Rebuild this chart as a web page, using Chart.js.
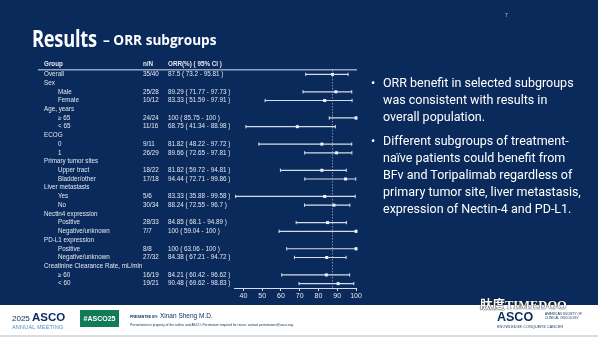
<!DOCTYPE html>
<html lang="en">
<head>
<meta charset="UTF-8">
<title>Results - ORR subgroups</title>
<script src="https://cdn.jsdelivr.net/npm/chart.js"></script>
<style>
  html, body { margin: 0; padding: 0; }
  body { width: 598px; height: 337px; position: relative; overflow: hidden; background: #0a2a5c; font-family: "Liberation Sans", Arial, sans-serif; }
  #forest { position: absolute; left: 0; top: 0; }
  .title-big { position: absolute; left: 32px; top: 21px; color: #fff; font-family: "Open Sans", sans-serif; font-weight: 700; font-size: 24px; white-space: nowrap; transform: scaleX(0.76); transform-origin: left top; letter-spacing: -0.3px; }
  .title-small { position: absolute; left: 103px; top: 30px; color: #fff; font-family: "Open Sans", sans-serif; font-weight: 700; font-size: 13.6px; white-space: nowrap; }
  .pagenum { position: absolute; left: 505px; top: 12px; color: #c8d0de; font-size: 5px; }
  .bullets { position: absolute; left: 370px; top: 74px; color: #fff; font-family: Roboto, sans-serif; font-size: 12.5px; line-height: 17px; white-space: nowrap; }
  .bullets p { margin: 0 0 7px 0; padding-left: 13px; position: relative; }
  .bullets p::before { content: "•"; position: absolute; left: 1px; top: 0; }
  .footer { position: absolute; left: 0; top: 305px; width: 598px; height: 32px; background: #fff; border-bottom: 2px solid #d9dde3; box-sizing: border-box; }
  .f-year { position: absolute; left: 12px; top: 6px; color: #0a2a5c; font-size: 8px; }
  .f-year b { font-size: 11.5px; }
  .f-meet { position: absolute; left: 12px; top: 19px; color: #4d8fc4; font-size: 5.5px; letter-spacing: 0.2px; }
  .f-tag { position: absolute; left: 80px; top: 5px; width: 39px; height: 17px; background: #0f7b58; color: #fff; font-weight: 700; font-size: 7px; line-height: 17px; text-align: center; }
  .f-pres { position: absolute; left: 130px; top: 7px; color: #0a2a5c; font-size: 6.5px; white-space: nowrap; }
  .f-pres small { font-size: 3.5px; font-weight: 700; }
  .f-note { position: absolute; left: 130px; top: 18px; color: #0a2a5c; font-size: 3.3px; white-space: nowrap; }
  .f-asco { position: absolute; left: 497px; top: 5px; color: #0a2a5c; font-weight: 700; font-size: 12.5px; }
  .f-soc { position: absolute; left: 545px; top: 7px; color: #0a2a5c; font-size: 3.2px; line-height: 4px; }
  .f-kcc { position: absolute; left: 497px; top: 20px; color: #0a2a5c; font-size: 3.6px; letter-spacing: 0.2px; }
  .mark { position: absolute; left: 480px; top: 294px; color: #fff; font-size: 12.5px; font-weight: 700; white-space: nowrap; text-shadow: 0 0 1px #000, 0 0 1px #000; }
  .mark .cjk { font-family: "Noto Sans CJK SC", sans-serif; }
  .mark .lat { font-family: "Liberation Serif", serif; }
</style>
</head>
<body>
<canvas id="forest" width="598" height="337"></canvas>

<div class="title-big">Results</div>
<div class="title-small">– ORR subgroups</div>
<div class="pagenum">7</div>

<div class="bullets">
  <p>ORR benefit in selected subgroups<br>was consistent with results in<br>overall population.</p>
  <p>Different subgroups of treatment-<br>naïve patients could benefit from<br>BFv and Toripalimab regardless of<br>primary tumor site, liver metastasis,<br>expression of Nectin-4 and PD-L1.</p>
</div>

<div class="footer">
  <div class="f-year">2025 <b>ASCO</b></div>
  <div class="f-meet">ANNUAL MEETING</div>
  <div class="f-tag">#ASCO25</div>
  <div class="f-pres"><small>PRESENTED BY:</small> Xinan Sheng M.D.</div>
  <div class="f-note">Presentation is property of the author and ASCO. Permission required for reuse; contact permissions@asco.org.</div>
  <div class="f-asco">ASCO</div>
  <div class="f-soc">AMERICAN SOCIETY OF<br>CLINICAL ONCOLOGY</div>
  <div class="f-kcc">KNOWLEDGE CONQUERS CANCER</div>
</div>
<div class="mark"><span class="cjk">肽度</span><span class="lat">TIMEDOO</span></div>

<script>
// rows of the table, top to bottom (subgroup headers have no n/N)
const groups = ['Overall', 'Sex', 'Male', 'Female', 'Age, years', '≥ 65', '< 65',
  'ECOG', '0', '1', 'Primary tumor sites', 'Upper tract', 'Bladder/other',
  'Liver metastasis', 'Yes', 'No', 'Nectin4 expression', 'Positive', 'Negative/unknown',
  'PD-L1 expression', 'Positive', 'Negative/unknown',
  'Creatinine Clearance Rate, mL/min', '≥ 60', '< 60'];
const indented = [0, 0, 1, 1, 0, 1, 1, 0, 1, 1, 0, 1, 1, 0, 1, 1, 0, 1, 1, 0, 1, 1, 0, 1, 1];
const nN = ['35/40', '', '25/28', '10/12', '', '24/24', '11/16', '', '9/11', '26/29', '',
  '18/22', '17/18', '', '5/6', '30/34', '', '28/33', '7/7', '', '8/8', '27/32', '', '16/19', '19/21'];
const orr = [87.5, null, 89.29, 83.33, null, 100, 68.75, null, 81.82, 89.66, null,
  81.82, 94.44, null, 83.33, 88.24, null, 84.85, 100, null, 100, 84.38, null, 84.21, 90.48];
const ciLow = [73.2, null, 71.77, 51.59, null, 85.75, 41.34, null, 48.22, 72.65, null,
  59.72, 72.71, null, 35.88, 72.55, null, 68.1, 59.04, null, 63.06, 67.21, null, 60.42, 69.62];
const ciHigh = [95.81, null, 97.73, 97.91, null, 100, 88.98, null, 97.72, 97.81, null,
  94.81, 99.86, null, 99.58, 96.7, null, 94.89, 100, null, 100, 94.72, null, 96.62, 98.83];
const xTicks = [40, 50, 60, 70, 80, 90, 100];

const lineColor = 'rgba(226, 231, 240, 0.95)';
const textColor = '#e3e8f0';

// CI segments in one dataset, broken by null points
const ciLines = [];
const caps = [];
const points = [];
orr.forEach((v, i) => {
  if (v === null) return;
  ciLines.push({ x: ciLow[i], y: i }, { x: ciHigh[i], y: i }, { x: null, y: null });
  caps.push({ x: ciLow[i], y: i }, { x: ciHigh[i], y: i });
  points.push({ x: v, y: i });
});

function fmt(i) {
  return orr[i] + ' ( ' + ciLow[i] + ' - ' + ciHigh[i] + ' )';
}

// left side table text, one line per row of the y scale
const tablePlugin = {
  id: 'tableText',
  afterDraw(chart) {
    const ctx = chart.ctx;
    const y = chart.scales.y;
    ctx.save();
    ctx.fillStyle = textColor;
    ctx.textBaseline = 'middle';
    ctx.font = 'bold 6.3px "Liberation Sans", Arial, sans-serif';
    ctx.fillText('Group', 44, 64);
    ctx.fillText('n/N', 143, 64);
    ctx.fillText('ORR(%) ( 95% CI )', 168, 64);
    ctx.strokeStyle = 'rgba(170, 186, 212, 0.85)';
    ctx.lineWidth = 1.6;
    ctx.beginPath();
    ctx.moveTo(38, 69.7);
    ctx.lineTo(357, 69.7);
    ctx.stroke();
    ctx.font = '6.3px "Liberation Sans", Arial, sans-serif';
    groups.forEach((g, i) => {
      const py = y.getPixelForValue(i);
      ctx.fillText(g, indented[i] ? 58 : 44, py);
      if (orr[i] !== null) {
        ctx.fillText(nN[i], 143, py);
        ctx.fillText(fmt(i), 168, py);
      }
    });
    ctx.restore();
  }
};

new Chart(document.getElementById('forest').getContext('2d'), {
  type: 'scatter',
  data: {
    datasets: [
      {
        data: [{ x: orr[0], y: -0.5 }, { x: orr[0], y: 24.5 }],
        showLine: true, pointRadius: 0, borderColor: 'rgba(200, 210, 226, 0.75)',
        borderWidth: 0.8, borderDash: [1.5, 1.5], clip: false
      },
      {
        data: ciLines, showLine: true, pointRadius: 0, spanGaps: false,
        borderColor: lineColor, borderWidth: 1.2, clip: false
      },
      {
        data: caps, pointStyle: 'line', rotation: 90, pointRadius: 1.7,
        borderColor: lineColor, borderWidth: 1, clip: false
      },
      {
        data: points, pointStyle: 'rect', pointRadius: 2.1,
        backgroundColor: '#ffffff', borderWidth: 0, clip: false
      }
    ]
  },
  options: {
    responsive: false,
    animation: false,
    layout: { padding: { left: 234, right: 242, top: 70, bottom: 33 } },
    plugins: { legend: { display: false }, tooltip: { enabled: false } },
    scales: {
      x: {
        type: 'linear', min: 35, max: 100,
        afterBuildTicks: (s) => { s.ticks = xTicks.map(v => ({ value: v })); },
        afterFit: (s) => { s.height = 16; },
        grid: { drawOnChartArea: false, drawTicks: true, tickLength: 3, color: lineColor },
        border: { display: true, color: lineColor, width: 1 },
        ticks: { color: textColor, font: { size: 7, family: '"Liberation Sans", Arial, sans-serif' }, padding: 1 }
      },
      y: {
        type: 'linear', min: -0.5, max: 24.5, reverse: true, display: false
      }
    }
  },
  plugins: [tablePlugin]
});
</script>
</body>
</html>
